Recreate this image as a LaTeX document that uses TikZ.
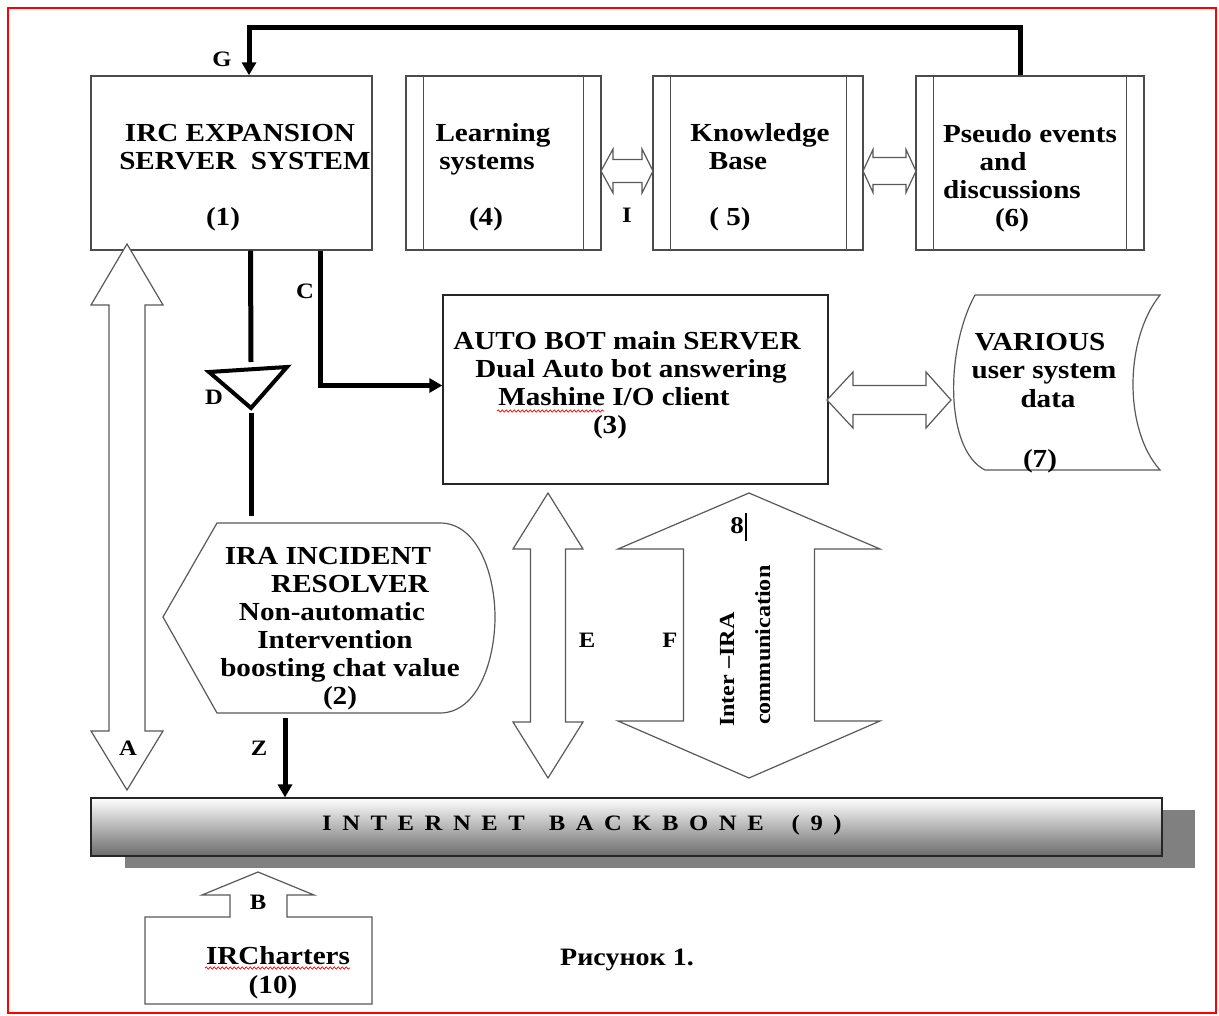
\documentclass[tikz,border=0pt]{standalone}
\usepackage{fontspec}
\setmainfont{Liberation Serif}[FakeStretch=1.12]
\usetikzlibrary{arrows.meta,decorations.pathmorphing,calc}

% vertical double block arrow: cx, top tip, upper head base, lower head base, bottom tip, half head, half shaft
\newcommand\vdblarrow[7]{%
  \draw[fat] (#1,#2) -- ({#1+#6},#3) -- ({#1+#7},#3) -- ({#1+#7},#4) -- ({#1+#6},#4)
    -- (#1,#5) -- ({#1-#6},#4) -- ({#1-#7},#4) -- ({#1-#7},#3) -- ({#1-#6},#3) -- cycle;}
% horizontal double block arrow: cy, left tip, left head base, right head base, right tip, half head, half shaft
\newcommand\hdblarrow[7]{%
  \draw[fat] (#2,#1) -- (#3,{#1-#6}) -- (#3,{#1-#7}) -- (#4,{#1-#7}) -- (#4,{#1-#6})
    -- (#5,#1) -- (#4,{#1+#6}) -- (#4,{#1+#7}) -- (#3,{#1+#7}) -- (#3,{#1+#6}) -- cycle;}

\begin{document}
\begin{tikzpicture}[x=1pt,y=-1pt,
  box/.style={draw=black!70, line width=1.4pt, fill=white, inner sep=0},
  boxline/.style={draw=black!70, line width=1.4pt},
  txt/.style={font=\fontsize{26}{28}\selectfont\bfseries, inner sep=0, anchor=base},
  small/.style={font=\fontsize{21.5}{24}\selectfont\bfseries, inner sep=0},
  lbl/.style={font=\fontsize{22}{24}\selectfont\bfseries, inner sep=0, anchor=base},
  conn/.style={line width=5pt, black},
  tip/.style={-{Triangle[length=13pt,width=14pt]}},
  fat/.style={draw=black!65, line width=1.2pt, fill=white, line join=miter},
  wavy/.style={red, line width=0.7pt, decorate, decoration={snake, amplitude=1.2pt, segment length=4pt}},
]
\useasboundingbox (0,0) rectangle (1219,1016);
\fill[white] (0,0) rectangle (1219,1016);
\draw[red, line width=2.2pt] (8,8) rectangle (1216,1013);

% ---- top row of boxes
\node[box, minimum width=281pt, minimum height=174pt] (b1) at (231.5,163) {};
\node[box, minimum width=195pt, minimum height=174pt] (b4) at (503.5,163) {};
\node[box, minimum width=210pt, minimum height=174pt] (b5) at (758,163) {};
\node[box, minimum width=228pt, minimum height=174pt] (b6) at (1030,163) {};
\foreach \b/\l/\r in {b4/18/18, b5/18/17, b6/18/18}{
  \draw[boxline] ([xshift=\l pt]\b.north west) -- ([xshift=\l pt]\b.south west);
  \draw[boxline] ([xshift=-\r pt]\b.north east) -- ([xshift=-\r pt]\b.south east);
}

\node[txt] (t1a) at (240,142) {IRC EXPANSION};
\node[txt] (t1b) at (245,170) {SERVER\ \ SYSTEM};
\node[txt] (t1c) at (223,226) {(1)};
\node[txt] (t4a) at (493,142) {Learning};
\node[txt] (t4b) at (487,170) {systems};
\node[txt] (t4c) at (486,226) {(4)};
\node[txt] (t5a) at (760,142) {Knowledge};
\node[txt] (t5b) at (738,170) {Base};
\node[txt] (t5c) at (730,226) {( 5)};
\node[txt] (t6a) at (1030,143) {Pseudo events};
\node[txt] (t6b) at (1003,171) {and};
\node[txt] (t6c) at (1012,199) {discussions};
\node[txt] (t6d) at (1012,227) {(6)};

\hdblarrow{171}{601}{613}{642}{653}{22}{11.5}
\node[lbl] (lI) at (627,223) {I};
\hdblarrow{171}{863}{873}{906}{916}{21.5}{13.5}

% ---- feedback line G
\coordinate (gs) at ($(b6.north)+(-10,0)$);
\coordinate (ge) at ($(b1.north)+(17.5,0)$);
\draw[conn, tip] (gs) -- ++(0,-48) -| (ge);
\node[lbl] (lG) at (222,67) {G};

% ---- AUTO BOT server
\node[box, draw=black!85, minimum width=385pt, minimum height=189pt] (b3) at (635.5,389.5) {};
\node[txt] (t3a) at (627,350) {AUTO BOT main SERVER};
\node[txt] (t3b) at (631,378) {Dual Auto bot answering};
\node[txt] (t3c) at (614,406) {Mashine I/O client};
\node[txt] (t3d) at (610,434) {(3)};
\draw[wavy] (497,411) -- (604,411);

% connector C
\coordinate (cs) at ($(b1.south)+(88.5,0)$);
\draw[conn, tip] (cs) |- ($(b3.west)+(0,-4)$);
\node[lbl] (lC) at (305,299) {C};

% ---- stored data (7)
\draw[fat] (975,295) -- (1160,295) .. controls (1124,340) and (1124,430) .. (1160,470)
  -- (985,470) .. controls (945,450) and (945,350) .. (975,295);
\node[txt] (t7a) at (1040,351) {VARIOUS};
\node[txt] (t7b) at (1044,379) {user system};
\node[txt] (t7c) at (1048,407) {data};
\node[txt] (t7d) at (1040,467) {(7)};
\hdblarrow{400}{827}{853}{926}{951}{28}{14.5}

% ---- connector D with triangle
\coordinate (ds) at ($(b1.south)+(19,0)$);
\coordinate (tri) at (251,362);
\coordinate (trib) at (251,413);
\coordinate (de) at (251,516);
\draw[conn] (ds) -- (tri);
\draw[line width=4pt, line join=miter] (209,372) -- (287,367) -- (251,408) -- cycle;
\draw[conn] (trib) -- (de);
\node[lbl] (lD) at (214,405) {D};

% ---- incident resolver (2)
\draw[fat] (163,617) -- (217,523) -- (440,523) .. controls (478,523) and (495,575) .. (495,617)
  .. controls (495,660) and (478,713) .. (440,713) -- (217,713) -- cycle;
\node[txt] (t2a) at (328,564) {IRA INCIDENT};
\node[txt] (t2b) at (350,592) {RESOLVER};
\node[txt] (t2c) at (332,620) {Non-automatic};
\node[txt] (t2d) at (335,648) {Intervention};
\node[txt] (t2e) at (340,676) {boosting chat value};
\node[txt] (t2f) at (340,704) {(2)};

% ---- internet backbone (9)
\fill[black!50] (125,810) rectangle (1195,868);
\node[draw=black!85, line width=1.2pt, top color=white, middle color=black!14, bottom color=black!58,
  minimum width=1071pt, minimum height=58pt, inner sep=0] (bb) at (626.5,827) {};
\node[font=\fontsize{22}{24}\selectfont\bfseries\addfontfeature{LetterSpace=48}, inner sep=0, anchor=base west]
  (tbb) at (322,830) {INTERNET\hspace{24pt}BACKBONE\hspace{28pt}(9)};

% ---- vertical block arrows
\vdblarrow{127}{244}{305}{731}{790}{36}{18}
\node[lbl] (lA) at (128,755) {A};
\vdblarrow{548}{493}{549}{722}{778}{35}{17.5}
\node[lbl] (lE) at (587,647) {E};
\vdblarrow{749}{493}{549}{721}{778}{131}{65.5}
\node[lbl] (lF) at (670,647) {F};
\node[lbl, font=\fontsize{24}{26}\selectfont\bfseries] (l8) at (737,533) {8};
\draw[line width=1.6pt] (746,513) -- (746,541);
\node[small, rotate=90, anchor=base west] (t8a) at (734,727) {Inter –IRA};
\node[small, rotate=90, anchor=base west] (t8b) at (770,725) {communication};

% connector Z
\coordinate (zs) at (285,718);
\draw[conn, tip] (zs) -- (zs |- bb.north);
\node[lbl] (lZ) at (259,755) {Z};

% ---- IRCharters (10) with arrow B
\draw[fat] (258,872) -- (314,895) -- (287,895) -- (287,917) -- (372,917) -- (372,1004)
  -- (145,1004) -- (145,917) -- (230,917) -- (230,895) -- (202,895) -- cycle;
\node[lbl] (lB) at (258,909) {B};
\node[txt] (t10a) at (278,964) {IRCharters};
\node[txt] (t10b) at (273,993) {(10)};
\draw[wavy] (205,968) -- (350,968);

\node[font=\fontsize{25}{28}\selectfont\bfseries, inner sep=0, anchor=base] (cap) at (627,965) {Рисунок 1.};
\end{tikzpicture}
\end{document}
